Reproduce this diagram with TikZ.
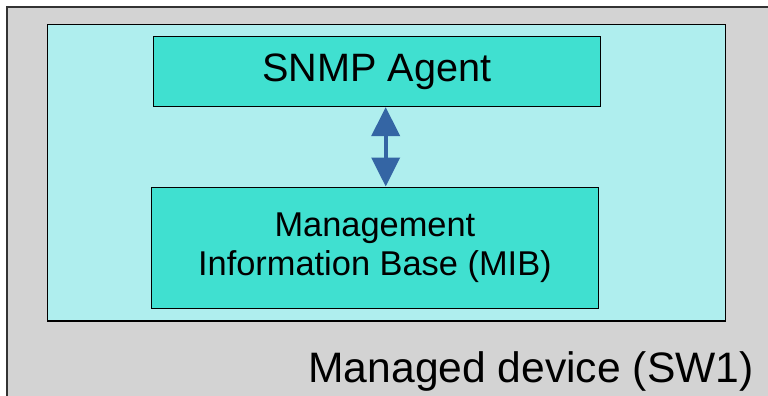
\documentclass[tikz,border=0pt]{standalone}
\usepackage{fontspec}
\setmainfont{Liberation Sans}
\usetikzlibrary{arrows.meta}
\definecolor{devgray}{HTML}{D3D3D3}
\definecolor{palecyan}{HTML}{AFEEEE}
\definecolor{turq}{HTML}{40E0D0}
\definecolor{arrowblue}{HTML}{3465A4}
\begin{document}
\begin{tikzpicture}[
    x=0.5pt, y=-0.5pt,
    every node/.style={align=center, inner sep=0pt},
    modbox/.style={draw=black, line width=0.5pt, fill=turq, minimum width=223.9pt},
    link/.style={draw=arrowblue, line width=2pt, {Triangle[length=14.5pt,width=14pt]}-{Triangle[length=14.5pt,width=14pt]}}
]
\useasboundingbox (0,0) rectangle (768,396);
\clip (0,0) rectangle (768,396);
% device and its frame
\filldraw[fill=devgray, draw=black!80, line width=0.6pt] (7,7) rectangle (790,420);
\filldraw[fill=palecyan, draw=black, line width=0.6pt] (47.3,24.3) rectangle (725.7,321);
\node[modbox, minimum height=35.3pt, font=\fontsize{19.8}{23}\selectfont] (agent) at (376.9,71.3) {SNMP Agent};
\node[modbox, minimum height=60.5pt, font=\fontsize{17.2}{19.5}\selectfont] (mib) at (374.9,247.5) {Management\\Information Base (MIB)};
\coordinate (ax) at (385.7,0);
\draw[link] (agent.south -| ax) -- (mib.north -| ax);
\node[anchor=base east, font=\fontsize{21.3}{24}\selectfont] (device) at (754,382) {Managed device (SW1)};
\end{tikzpicture}
\end{document}
